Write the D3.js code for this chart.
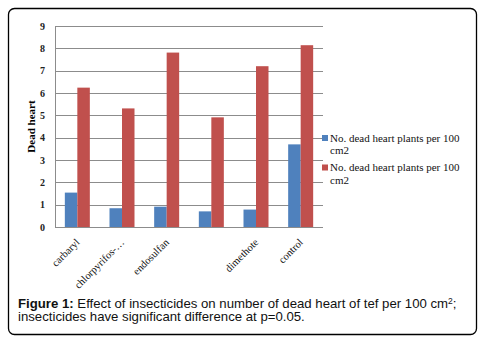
<!DOCTYPE html>
<html>
<head>
<meta charset="utf-8">
<script src="https://cdn.jsdelivr.net/npm/d3@7"></script>
<style>
  html, body { margin: 0; padding: 0; background: #fff; }
  svg { display: block; }
</style>
</head>
<body>
<div id="chart"></div>
<script>
const categories = ['carbaryl', 'chlorpyrifos-…', 'endosulfan', '', 'dimethote', 'control'];
const seriesNames = ['No. dead heart plants per 100 cm2', 'No. dead heart plants per 100 cm2'];
const blueValues = [1.54, 0.84, 0.91, 0.70, 0.78, 3.70];
const redValues = [6.24, 5.31, 7.81, 4.91, 7.20, 8.14];
const yTicks = [0, 1, 2, 3, 4, 5, 6, 7, 8, 9];
const colors = ['#4F81BD', '#C0504D'];

const width = 485, height = 339;
const svg = d3.select('#chart').append('svg')
  .attr('width', width)
  .attr('height', height);

// outer frame
svg.append('rect')
  .attr('x', 8.5).attr('y', 8.5)
  .attr('width', 468).attr('height', 326)
  .attr('rx', 6).attr('ry', 6)
  .attr('fill', '#fff')
  .attr('stroke', '#000')
  .attr('stroke-width', 1.3);

const margin = { left: 55, top: 26, right: 323, bottom: 227 };

const x = d3.scaleBand()
  .domain(d3.range(categories.length))
  .range([margin.left, margin.right]);

const xInner = d3.scaleBand()
  .domain([0, 1])
  .range([0, 25]);

const y = d3.scaleLinear()
  .domain([0, 9])
  .range([margin.bottom, margin.top]);

// gridlines
svg.append('g')
  .selectAll('line')
  .data(yTicks)
  .join('line')
  .attr('x1', margin.left).attr('x2', margin.right)
  .attr('y1', d => Math.round(y(d)) + 0.5)
  .attr('y2', d => Math.round(y(d)) + 0.5)
  .attr('stroke', '#8c8c8c')
  .attr('stroke-width', 1);

// y axis line
svg.append('line')
  .attr('x1', margin.left + 0.5).attr('x2', margin.left + 0.5)
  .attr('y1', margin.top).attr('y2', margin.bottom)
  .attr('stroke', '#8c8c8c');

// y tick labels
svg.append('g')
  .selectAll('text')
  .data(yTicks)
  .join('text')
  .attr('x', 45)
  .attr('y', d => y(d) + 3.5)
  .attr('text-anchor', 'end')
  .attr('font-family', 'Liberation Serif, serif')
  .attr('font-weight', 'bold')
  .attr('font-size', 10)
  .attr('fill', '#222')
  .text(d => d);

// bars
const series = [blueValues, redValues];
series.forEach((vals, si) => {
  svg.append('g')
    .selectAll('rect')
    .data(vals)
    .join('rect')
    .attr('x', (d, i) => x(i) + x.bandwidth() / 2 - 12.5 + xInner(si))
    .attr('width', xInner.bandwidth())
    .attr('y', d => y(d))
    .attr('height', d => y(0) - y(d))
    .attr('fill', colors[si]);
});

// x axis line
svg.append('line')
  .attr('x1', margin.left).attr('x2', margin.right)
  .attr('y1', margin.bottom + 0.5).attr('y2', margin.bottom + 0.5)
  .attr('stroke', '#8c8c8c');

// x tick labels
svg.append('g')
  .selectAll('text')
  .data(categories)
  .join('text')
  .attr('transform', (d, i) => `translate(${x(i) + x.bandwidth() / 2 + 3},${margin.bottom + 16}) rotate(-45)`)
  .attr('text-anchor', 'end')
  .attr('font-family', 'Liberation Serif, serif')
  .attr('font-size', 10.5)
  .attr('fill', '#111')
  .text(d => d);

// y axis title
svg.append('text')
  .attr('transform', `translate(35,${(margin.top + margin.bottom) / 2}) rotate(-90)`)
  .attr('text-anchor', 'middle')
  .attr('font-family', 'Liberation Serif, serif')
  .attr('font-weight', 'bold')
  .attr('font-size', 11)
  .text('Dead heart');

// legend
const legend = svg.append('g');
seriesNames.forEach((name, i) => {
  const ly = 135 + i * 29.5;
  legend.append('rect')
    .attr('x', 322).attr('y', ly)
    .attr('width', 6).attr('height', 6)
    .attr('fill', colors[i]);
  const t = legend.append('text')
    .attr('x', 330).attr('y', ly + 6.5)
    .attr('font-family', 'Liberation Serif, serif')
    .attr('font-size', 11)
    .attr('fill', '#111');
  t.append('tspan').attr('x', 330).text('No. dead heart plants per 100');
  t.append('tspan').attr('x', 330).attr('dy', 12.5).text('cm2');
});

// caption
const cap = svg.append('text')
  .attr('x', 18).attr('y', 308)
  .attr('font-family', 'Liberation Sans, Arial, sans-serif')
  .attr('font-size', 13.2)
  .attr('fill', '#111');
cap.append('tspan').attr('font-weight', 'bold').text('Figure 1: ');
cap.append('tspan').text('Effect of insecticides on number of dead heart of tef per 100 cm');
cap.append('tspan').attr('font-size', 8.5).attr('dy', -4.5).text('2');
cap.append('tspan').attr('dy', 4.5).text(';');
svg.append('text')
  .attr('x', 18).attr('y', 320.5)
  .attr('font-family', 'Liberation Sans, Arial, sans-serif')
  .attr('font-size', 13.2)
  .attr('fill', '#111')
  .text('insecticides have significant difference at p=0.05.');
</script>
</body>
</html>
